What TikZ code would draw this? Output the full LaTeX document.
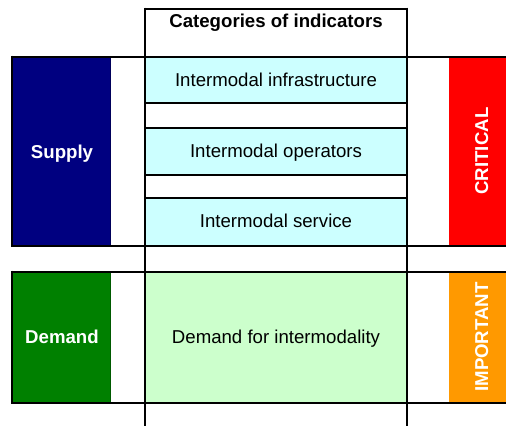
\documentclass[tikz,border=0pt]{standalone}
\usepackage{fontspec}
\setmainfont{Liberation Sans}
\usepackage{tikz}

\definecolor{supplyblue}{HTML}{000080}
\definecolor{demandgreen}{HTML}{008000}
\definecolor{criticalred}{HTML}{FF0000}
\definecolor{importantorange}{HTML}{FF9900}
\definecolor{rowcyan}{HTML}{CCFFFF}
\definecolor{rowgreen}{HTML}{CCFFCC}

\tikzset{
  label/.style={inner sep=0pt, text height=13.4bp, text depth=0pt,
    font=\fontsize{18.7}{22}\selectfont},
  boldlabel/.style={label, font=\fontsize{18.7}{22}\selectfont\bfseries},
  rule/.style={line width=2.6bp},
  rowrule/.style={line width=2bp}
}

\begin{document}
\begin{tikzpicture}[x=1bp,y=-1bp]
    \useasboundingbox (0,0) rectangle (506,426);

    % draw coloured cells
    \fill[supplyblue] (12,57) rectangle (110,246);
    \fill[demandgreen] (12,272) rectangle (110,403);
    \fill[criticalred] (449,57) rectangle (506,246);
    \fill[importantorange] (449,272) rectangle (506,403);
    \foreach \ya/\yb in {57/103,128/175,198/246}
      \fill[rowcyan] (145,\ya) rectangle (407,\yb);
    \fill[rowgreen] (145,272) rectangle (407,403);
    \draw[supplyblue!70!black, line width=0.8bp] (110,57) -- (110,246);
    \draw[demandgreen!70!black, line width=0.8bp] (110,272) -- (110,403);

    % draw horizontal lines
    \foreach \y in {57,246,272,403}
      \draw[rule] (12,\y) -- (506,\y);
    \draw[rule] (145,9) -- (407,9);
    \foreach \y in {103,128,175,198}
      \draw[rowrule] (145,\y) -- (407,\y);

    % draw vertical lines
    \foreach \x in {145,407}
      \draw[rule] (\x,7.7) -- (\x,426);
    \draw[rule] (12,55.7) -- (12,247.3);
    \draw[rule] (12,270.7) -- (12,404.3);

    % draw nodes
    \node[boldlabel] (header) at (276,21) {Categories of indicators};
    \node[boldlabel, white] (supply) at (62,152) {Supply};
    \node[boldlabel, white] (demand) at (62,337) {Demand};
    \node[label] (infra) at (276,80) {Intermodal infrastructure};
    \node[label] (operators) at (276,151) {Intermodal operators};
    \node[label] (service) at (276,221) {Intermodal service};
    \node[label] (intermodality) at (276,337) {Demand for intermodality};
    \node[boldlabel, white, rotate=90] (critical) at (481.5,151) {CRITICAL};
    \node[boldlabel, white, rotate=90] (important) at (481.5,337) {IMPORTANT};

  \end{tikzpicture}
\end{document}
